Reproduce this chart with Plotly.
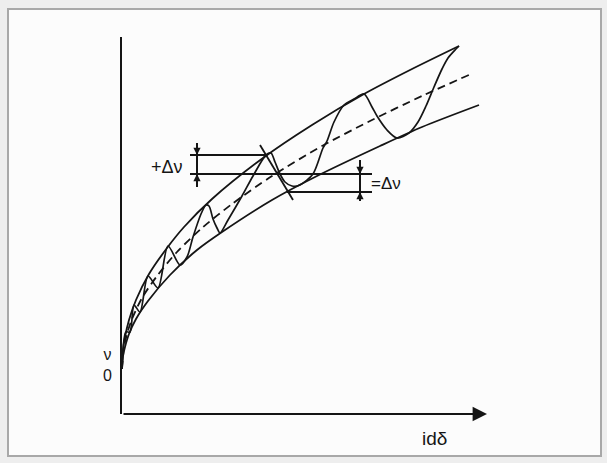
import plotly.graph_objects as go

# ---- data (x: distance along the abscissa, y: height above it) ----
upper_x = [0, 1, 3, 7, 14, 27, 45, 62, 90, 141, 190, 242, 290, 337]
upper_y = [45, 64, 77, 94, 114, 140, 166, 187, 215, 256, 289, 320, 345, 368]

lower_x = [0, 1, 3, 7, 14, 26, 48, 75, 100, 150, 195, 258, 300, 357]
lower_y = [45, 58, 67, 80, 95, 113, 139, 164, 182, 214, 238, 268, 287, 309]

center_x = [0, 2, 5, 10, 20, 35, 55, 80, 110, 150, 200, 250, 300, 349]
center_y = [45, 67, 80, 95, 116, 138, 162, 186, 210, 238, 268, 294, 318, 340]

wave_x = [0, 4, 8, 12, 18, 26, 36, 46, 58, 65, 71, 79, 84, 87, 91, 95, 98, 106, 120, 131,
          144, 149, 153, 158, 163, 170, 178, 191, 201, 205, 212, 222, 232, 242, 250, 255,
          265, 275, 287, 296, 304, 312, 320, 326, 334, 337]
wave_y = [45, 82, 82, 109, 102, 138, 126, 168, 149, 157, 177, 200, 209, 208, 195, 186, 181,
          194, 218, 238, 259, 261, 252, 240, 232, 228, 229, 240, 266, 273, 292, 309, 315, 320,
          307, 298, 284, 276, 281, 292, 308, 327, 345, 356, 365, 368]

# Δν construction
plus_level = 259
center_level = 240
minus_level = 222
plus_line_x = [68, 144]
center_line_x = [68, 250]
minus_line_x = [165, 250]
left_marker_x = 75
left_marker_ends = [271, 227]
right_marker_x = 238
right_marker_ends = [254, 213]
steep_x = [138, 171]
steep_y = [269, 214]

axis_end_x = 365
x_range = [0, 368]
y_range = [0, 377]

INK = "#151515"
FONT = "Liberation Sans, Arial, sans-serif"

fig = go.Figure()

def line(x, y, width=1.8, dash=None, shape="spline"):
    fig.add_trace(go.Scatter(x=x, y=y, mode="lines", hoverinfo="skip",
                             line=dict(color=INK, width=width, dash=dash, shape=shape,
                                       smoothing=0.8 if shape == "spline" else None)))

line(upper_x, upper_y)
line(lower_x, lower_y)
line(center_x, center_y, dash="8px,5px")
line(wave_x, wave_y, width=1.7)

line(plus_line_x, [plus_level, plus_level], shape="linear")
line(center_line_x, [center_level, center_level], shape="linear")
line(minus_line_x, [minus_level, minus_level], shape="linear")
line([left_marker_x, left_marker_x], left_marker_ends, width=2, shape="linear")
line([right_marker_x, right_marker_x], right_marker_ends, width=2, shape="linear")
line(steep_x, steep_y, shape="linear")

ann = []
def arrow(x, y, ax, ay, size=1.0, width=1.6):
    ann.append(dict(x=x, y=y, ax=ax, ay=ay, xref="x", yref="y", axref="x", ayref="y",
                    text="", showarrow=True, arrowhead=2, arrowsize=size,
                    arrowwidth=width, arrowcolor=INK, standoff=0, startstandoff=0))

# x axis with arrow
arrow(axis_end_x, 0, 0, 0, size=1.6, width=1.8)
# dimension arrows
arrow(left_marker_x, plus_level, left_marker_x, left_marker_ends[0], size=0.9)
arrow(left_marker_x, center_level, left_marker_x, left_marker_ends[1], size=0.9)
arrow(right_marker_x, center_level, right_marker_x, right_marker_ends[0], size=0.9)
arrow(right_marker_x, minus_level, right_marker_x, right_marker_ends[1], size=0.9)

# layout geometry (pixels)
L, R, T, B = 122, 117, 37, 49
W, H = 607, 463
pw, ph = W - L - R, H - T - B

def to_paper(x, y):
    return ((x - x_range[0]) / (x_range[1] - x_range[0]),
            (y - y_range[0]) / (y_range[1] - y_range[0]))

def label(x, y, t, size=15):
    px, py = to_paper(x, y)
    ann.append(dict(x=px, y=py, xref="paper", yref="paper", text=t, showarrow=False,
                    font=dict(family=FONT, size=size, color=INK),
                    xanchor="center", yanchor="middle"))

label(45, 247, "+Δν", 18)
label(264, 231, "=Δν", 17)
label(-15, 49, "ν<br>0", 16)
label(312, -24, "idδ", 19)

def px_to_paper(px, py):
    return (px - L) / pw, (H - B - py) / ph
fx0, fy0 = px_to_paper(8, 456)
fx1, fy1 = px_to_paper(601, 9)

fig.update_layout(
    width=W, height=H, autosize=False,
    margin=dict(l=L, r=R, t=T, b=B, pad=0),
    paper_bgcolor="#eeeeee", plot_bgcolor="rgba(0,0,0,0)",
    showlegend=False,
    annotations=ann,
    shapes=[dict(type="rect", xref="paper", yref="paper", x0=fx0, y0=fy0, x1=fx1, y1=fy1,
                 line=dict(color="#a8a8a8", width=2), fillcolor="#fcfcfc", layer="below")],
    xaxis=dict(range=x_range, showline=False, showgrid=False, zeroline=False,
               showticklabels=False, ticks="", fixedrange=True),
    yaxis=dict(range=y_range, showline=True, linewidth=2, linecolor=INK, mirror=False,
               showgrid=False, zeroline=False, showticklabels=False, ticks="", fixedrange=True),
)

fig.write_html("out.html", config={"displayModeBar": False},
               post_script="document.body.style.margin='0';document.body.style.padding='0';")
